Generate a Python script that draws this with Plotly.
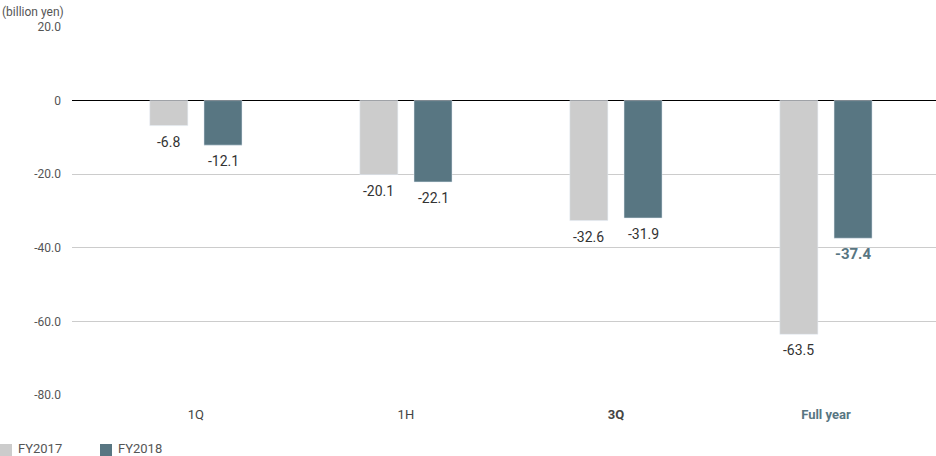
import plotly.graph_objects as go

categories = ["1Q", "1H", "3Q", "Full year"]
tick_labels = ["1Q", "1H", "<b>3Q</b>", "<b><span style='color:#587682'>Full year</span></b>"]
fy2017 = [-6.8, -20.1, -32.6, -63.5]
fy2018 = [-12.1, -22.1, -31.9, -37.4]
fy2017_text = ["-6.8", "-20.1", "-32.6", "-63.5"]
fy2018_text = ["-12.1", "-22.1", "-31.9", "<b>-37.4</b>"]
y_ticks = [20, 0, -20, -40, -60, -80]
y_tick_text = ["20.0", "0", "-20.0", "-40.0", "-60.0", "-80.0"]
series_names = ["FY2017", "FY2018"]
series_colors = ["#cccccc", "#587682"]

L, T, B, W, H = 72, 27, 61, 936, 456
PW, PH = W - L, H - T - B

def px_x(p):
    return (p - L) / PW

def px_y(p):
    return (H - B - p) / PH

x_idx = list(range(len(categories)))
bar_w = 0.181
offs = [-0.129, 0.129]
fig = go.Figure()
annotations = [dict(text="(billion yen)", xref="paper", yref="paper", x=px_x(0), y=px_y(12),
                    xanchor="left", yanchor="middle", showarrow=False,
                    font=dict(size=12, color="#555555"))]
label_colors = [["#333333"] * 4, ["#333333", "#333333", "#333333", "#587682"]]
label_sizes = [[14] * 4, [14, 14, 14, 15]]
for vals, texts, nm, col, off, lcols, lsz in zip([fy2017, fy2018], [fy2017_text, fy2018_text],
                                                 series_names, series_colors, offs,
                                                 label_colors, label_sizes):
    fig.add_trace(go.Bar(
        x=x_idx, y=vals, name=nm, marker_color=col,
        width=bar_w, offset=off - bar_w / 2, showlegend=False,
    ))
    for xi, v, t, lc, s in zip(x_idx, vals, texts, lcols, lsz):
        annotations.append(dict(x=xi + off, y=v, xref="x", yref="y", text=t, showarrow=False,
                                yanchor="middle", yshift=-16,
                                font=dict(size=s, color=lc)))

shapes = []
for i, (nm, col) in enumerate(zip(series_names, series_colors)):
    x0 = i * 100
    shapes.append(dict(type="rect", xref="paper", yref="paper",
                       x0=px_x(x0), x1=px_x(x0 + 12), y0=px_y(456), y1=px_y(444),
                       fillcolor=col, line=dict(width=0)))
    annotations.append(dict(text=nm, xref="paper", yref="paper", x=px_x(x0 + 16), y=px_y(448),
                            xanchor="left", yanchor="middle", showarrow=False,
                            font=dict(size=13, color="#555555")))

fig.update_layout(
    width=W, height=H,
    margin=dict(l=L, r=0, t=T, b=B, autoexpand=False),
    plot_bgcolor="white", paper_bgcolor="white",
    font=dict(family="Roboto, sans-serif", color="#333333"),
    barmode="overlay", showlegend=False,
    xaxis=dict(range=[-0.59, 3.524], tickvals=x_idx, ticktext=tick_labels,
               showgrid=False, zeroline=False, showline=False, ticks="", automargin=False,
               ticklabelstandoff=10,
               tickfont=dict(size=13, color="#444444")),
    yaxis=dict(range=[-80, 20], tickvals=y_ticks, ticktext=y_tick_text,
               showgrid=True, gridcolor="#cccccc", gridwidth=1,
               zeroline=True, zerolinecolor="#000000", zerolinewidth=1.3,
               ticks="", ticklabelstandoff=10, automargin=False,
               tickfont=dict(size=12, color="#555555")),
    shapes=shapes,
    annotations=annotations,
)
fig.write_html("out.html", config={"displayModeBar": False},
               post_script="document.body.style.margin='0';document.body.style.overflow='hidden';")
